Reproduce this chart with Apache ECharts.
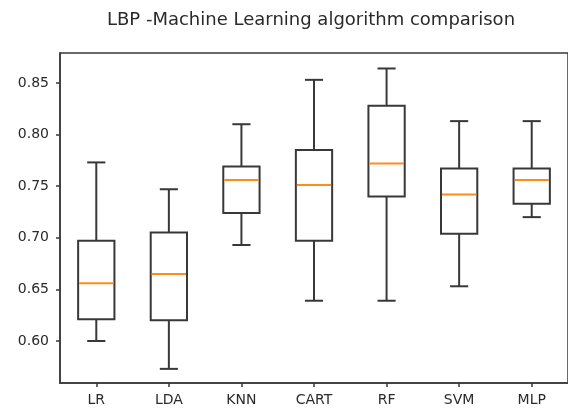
<!DOCTYPE html>
<html>
<head>
<meta charset="utf-8">
<script src="https://cdn.jsdelivr.net/npm/echarts@6/dist/echarts.min.js"></script>
<style>
  html, body { margin: 0; padding: 0; background: #fff; }
  #chart { width: 568px; height: 412px; }
</style>
</head>
<body>
<div id="chart"></div>
<script>
var categories = ['LR', 'LDA', 'KNN', 'CART', 'RF', 'SVM', 'MLP'];
var lowWhisker = [0.600, 0.573, 0.693, 0.639, 0.639, 0.653, 0.720];
var q1 = [0.621, 0.620, 0.724, 0.697, 0.740, 0.704, 0.733];
var median = [0.656, 0.665, 0.756, 0.751, 0.772, 0.742, 0.756];
var q3 = [0.697, 0.705, 0.769, 0.785, 0.828, 0.767, 0.767];
var highWhisker = [0.773, 0.747, 0.810, 0.853, 0.864, 0.813, 0.813];
var yTicks = [0.60, 0.65, 0.70, 0.75, 0.80, 0.85];

var lineColor = '#383838';

// one row per algorithm: [index, low, q1, median, q3, high]
var boxData = categories.map(function (c, i) {
    return [i, lowWhisker[i], q1[i], median[i], q3[i], highWhisker[i]];
});

var renderBox = function (params, api) {
    var i = api.value(0);
    var bandW = api.size([1, 0])[0];
    var half = bandW * 0.25;   // box is half the band wide
    var capHalf = half * 0.5;  // caps are half the box wide
    var pLow = api.coord([i, api.value(1)]);
    var pQ1 = api.coord([i, api.value(2)]);
    var pMed = api.coord([i, api.value(3)]);
    var pQ3 = api.coord([i, api.value(4)]);
    var pHigh = api.coord([i, api.value(5)]);
    var x = pMed[0];
    var st = { stroke: lineColor, lineWidth: 2, fill: null };
    return {
        type: 'group',
        children: [
            { type: 'rect', shape: { x: x - half, y: pQ3[1], width: half * 2, height: pQ1[1] - pQ3[1] }, style: st },
            { type: 'line', shape: { x1: x, y1: pQ3[1], x2: x, y2: pHigh[1] }, style: st },
            { type: 'line', shape: { x1: x, y1: pQ1[1], x2: x, y2: pLow[1] }, style: st },
            { type: 'line', shape: { x1: x - capHalf, y1: pHigh[1], x2: x + capHalf, y2: pHigh[1] }, style: st },
            { type: 'line', shape: { x1: x - capHalf, y1: pLow[1], x2: x + capHalf, y2: pLow[1] }, style: st },
            { type: 'line', shape: { x1: x - half + 1, y1: pMed[1], x2: x + half - 1, y2: pMed[1] }, style: { stroke: '#ff8c1a', lineWidth: 2 } }
        ]
    };
};

var myChart = echarts.init(document.getElementById('chart'), null, { renderer: 'canvas' });
var option = {
    backgroundColor: '#fff',
    animation: false,
    textStyle: { fontFamily: 'DejaVu Sans' },
    title: {
        text: 'LBP -Machine Learning algorithm comparison',
        left: 306,
        textAlign: 'center',
        top: 6,
        textStyle: { fontFamily: 'DejaVu Sans', fontSize: 18, fontWeight: 'normal', color: '#2a2a2a' }
    },
    grid: {
        left: 60,
        top: 53,
        width: 513,
        height: 330,
        show: true,
        borderColor: lineColor,
        borderWidth: 1.5,
        backgroundColor: 'transparent'
    },
    xAxis: {
        type: 'category',
        data: categories,
        boundaryGap: true,
        axisLine: { show: true, lineStyle: { color: lineColor, width: 1.5 } },
        axisTick: { show: true, alignWithLabel: true, length: 4, lineStyle: { color: lineColor, width: 1.5 } },
        axisLabel: { color: '#2a2a2a', fontSize: 14, margin: 10 },
        splitLine: { show: false }
    },
    yAxis: {
        type: 'value',
        min: 0.5593,
        max: 0.879,
        axisLine: { show: true, lineStyle: { color: lineColor, width: 1.5 } },
        axisTick: { show: true, length: 4, customValues: yTicks, lineStyle: { color: lineColor, width: 1.5 } },
        axisLabel: {
            color: '#2a2a2a',
            fontSize: 14,
            margin: 11,
            customValues: yTicks,
            formatter: function (v) { return v.toFixed(2); }
        },
        splitLine: { show: false }
    },
    series: [
        {
            type: 'custom',
            renderItem: renderBox,
            encode: { x: 0, y: [1, 2, 3, 4, 5] },
            data: boxData
        }
    ]
};
myChart.setOption(option);
</script>
</body>
</html>
